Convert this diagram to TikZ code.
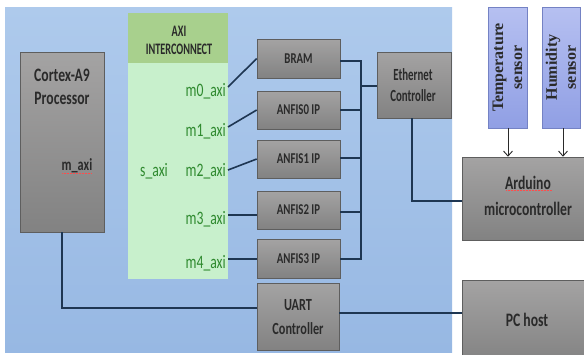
\documentclass[tikz,border=0pt]{standalone}
\usepackage{fontspec}
\setmainfont{Carlito}[FakeStretch=0.72]
\newfontfamily\narrowfont{Carlito}[FakeStretch=0.64]
\newfontfamily\serifbold{Liberation Serif}
\usetikzlibrary{shadows,arrows.meta}
\definecolor{panelA}{HTML}{AECAEC}
\definecolor{panelB}{HTML}{97B8E3}
\definecolor{boxA}{HTML}{A4A3A3}
\definecolor{boxB}{HTML}{828282}
\definecolor{boxline}{HTML}{5E5E5E}
\definecolor{hdrgreen}{HTML}{A8D08D}
\definecolor{bodygreen}{HTML}{C8F0CC}
\definecolor{lblgreen}{HTML}{2F8A2F}
\definecolor{wire}{HTML}{1E3652}
\definecolor{txt}{HTML}{2A2A2A}
\definecolor{sensA}{HTML}{B6C0F1}
\definecolor{sensB}{HTML}{909FE4}
\definecolor{sensline}{HTML}{7482C4}
\tikzset{
  gbox/.style={draw=boxline, line width=0.6pt, top color=boxA, bottom color=boxB,
    inner sep=0pt, drop shadow={shadow xshift=1.2pt, shadow yshift=-1.2pt, opacity=0.35}},
  sensbox/.style={draw=sensline, line width=0.5pt, top color=sensA, bottom color=sensB, inner sep=0pt},
  lbl/.style={text=txt, inner sep=0pt, align=center},
  axil/.style={text=lblgreen, inner sep=0pt, font=\fontsize{19}{23}\selectfont},
  wireline/.style={draw=wire, line width=1.6pt},
  sensarrow/.style={draw=txt, line width=0.9pt, -{Straight Barb[length=5pt,width=9pt]}},
  spell/.style={draw=red!70, line width=0.5pt, densely dotted}
}
\begin{document}
\begin{tikzpicture}[x=1pt,y=-1pt]
\clip (0,0) rectangle (584,354);
\fill[white] (0,0) rectangle (584,354);
% blue panel
\shade[top color=panelA, bottom color=panelB] (5,7) rectangle (452,352);

% Cortex
\node[gbox, minimum width=84pt, minimum height=180pt] (cortex) at (62,142) {};
\node[lbl, font=\fontsize{19}{23}\selectfont\bfseries] (cortext) at (62,87) {Cortex-A9\\Processor};
\node[lbl, font=\fontsize{17}{20}\selectfont\bfseries, anchor=base] (maxi) at (77,170) {m\_axi};
\draw[spell] (62,173) -- (92,173);

% AXI interconnect
\node[fill=bodygreen, minimum width=100pt, minimum height=216pt, inner sep=0pt] (axibody) at (178,171) {};
\node[fill=hdrgreen, minimum width=100pt, minimum height=50pt, inner sep=0pt] (axihdr) at (178,38) {};
\node[lbl, font=\narrowfont\fontsize{16}{18}\selectfont\bfseries] (axitext) at (179,40) {AXI\\INTERCONNECT};
\node[axil, anchor=base east] (m0) at (226,96) {m0\_axi};
\node[axil, anchor=base east] (m1) at (226,136) {m1\_axi};
\node[axil, anchor=base east] (m2) at (226,176) {m2\_axi};
\node[axil, anchor=base east] (m3) at (226,224) {m3\_axi};
\node[axil, anchor=base east] (m4) at (226,268) {m4\_axi};
\node[axil, anchor=base west] (saxi) at (140,176) {s\_axi};

% peripheral boxes
\node[gbox, minimum width=83pt, minimum height=39pt] (bram) at (298.5,58.5) {};
\node[gbox, minimum width=83pt, minimum height=38pt] (anfis0) at (298.5,110) {};
\node[gbox, minimum width=83pt, minimum height=38pt] (anfis1) at (298.5,159) {};
\node[gbox, minimum width=83pt, minimum height=38pt] (anfis2) at (298.5,210) {};
\node[gbox, minimum width=83pt, minimum height=39pt] (anfis3) at (298.5,258.5) {};
\node[gbox, minimum width=82pt, minimum height=67pt] (uart) at (298,316.5) {};
\node[gbox, minimum width=74pt, minimum height=66pt] (eth) at (414,85) {};

\node[lbl, font=\fontsize{15}{18}\selectfont\bfseries] (bramt) at (bram) {BRAM};
\node[lbl, font=\fontsize{15}{18}\selectfont\bfseries] (anfis0t) at (anfis0) {ANFIS0 IP};
\node[lbl, font=\fontsize{15}{18}\selectfont\bfseries] (anfis1t) at (anfis1) {ANFIS1 IP};
\node[lbl, font=\fontsize{15}{18}\selectfont\bfseries] (anfis2t) at (anfis2) {ANFIS2 IP};
\node[lbl, font=\fontsize{15}{18}\selectfont\bfseries] (anfis3t) at (anfis3) {ANFIS3 IP};
\node[lbl, font=\fontsize{17}{24}\selectfont\bfseries] (uartt) at (298,317) {UART\\Controller};
\node[lbl, font=\narrowfont\fontsize{17}{21}\selectfont\bfseries] (etht) at (413,85) {Ethernet\\Controller};

% right side
\node[sensbox, minimum width=39pt, minimum height=121pt] (temp) at (507.5,67.5) {};
\node[sensbox, minimum width=38pt, minimum height=121pt] (hum) at (561,67.5) {};
\node[lbl, rotate=90, font=\serifbold\bfseries\fontsize{16}{19}\selectfont] (tempt) at (temp) {Temperature\\sensor};
\node[lbl, rotate=90, font=\serifbold\bfseries\fontsize{16}{19}\selectfont] (humt) at (hum) {Humidity\\sensor};
\node[gbox, minimum width=132pt, minimum height=83pt] (ard) at (528,198.5) {};
\node[gbox, minimum width=132pt, minimum height=84pt] (pc) at (528,322) {};
\node[lbl, font=\fontsize{19}{26}\selectfont\bfseries] (ardt) at (528,196) {Arduino\\microcontroller};
\draw[spell] (506,190) -- (552,190);
\node[lbl, font=\fontsize{19}{23}\selectfont\bfseries] (pct) at (527,320) {PC host};

% connectors AXI -> peripherals
\coordinate (p0) at (228,87);
\coordinate (p1) at (228,127);
\coordinate (p2) at (228,170);
\coordinate (p3) at (228,215);
\coordinate (p4) at (228,259);
\draw[wireline] (p0) -- (bram.west);
\draw[wireline] (p1) -- (anfis0.west);
\draw[wireline] (p2) -- (anfis1.west);
\draw[wireline] (p3) -- (p3 -| anfis2.west);
\draw[wireline] (p4) -- (p4 -| anfis3.west);

% bus to ethernet
\coordinate (bus0) at (361,61);
\coordinate (bus1) at (361,110);
\coordinate (bus2) at (361,158);
\coordinate (bus3) at (361,212);
\coordinate (bus4) at (361,259);
\coordinate (busE) at (361,86);
\draw[wireline] (bus0 -| bram.east) -- (bus0) -- (bus4) -- (bus4 -| anfis3.east);
\draw[wireline] (bus1 -| anfis0.east) -- (bus1);
\draw[wireline] (bus2 -| anfis1.east) -- (bus2);
\draw[wireline] (bus3 -| anfis2.east) -- (bus3);
\draw[wireline] (busE) -- (busE -| eth.west);

% ethernet -> arduino
\coordinate (ethdn) at (412,201);
\draw[wireline] (ethdn |- eth.south) -- (ethdn) -- (ethdn -| ard.west);

% cortex -> uart -> pc
\coordinate (cdn) at (62,308);
\draw[wireline] (cdn |- cortex.south) -- (cdn) -- (cdn -| uart.west);
\coordinate (up) at (339,313);
\draw[wireline] (up -| uart.east) -- (up -| pc.west);

% sensors -> arduino
\coordinate (ta) at (508,157);
\coordinate (ha) at (563,157);
\draw[sensarrow] (ta |- temp.south) -- (ta |- ard.north);
\draw[sensarrow] (ha |- hum.south) -- (ha |- ard.north);
\end{tikzpicture}
\end{document}
